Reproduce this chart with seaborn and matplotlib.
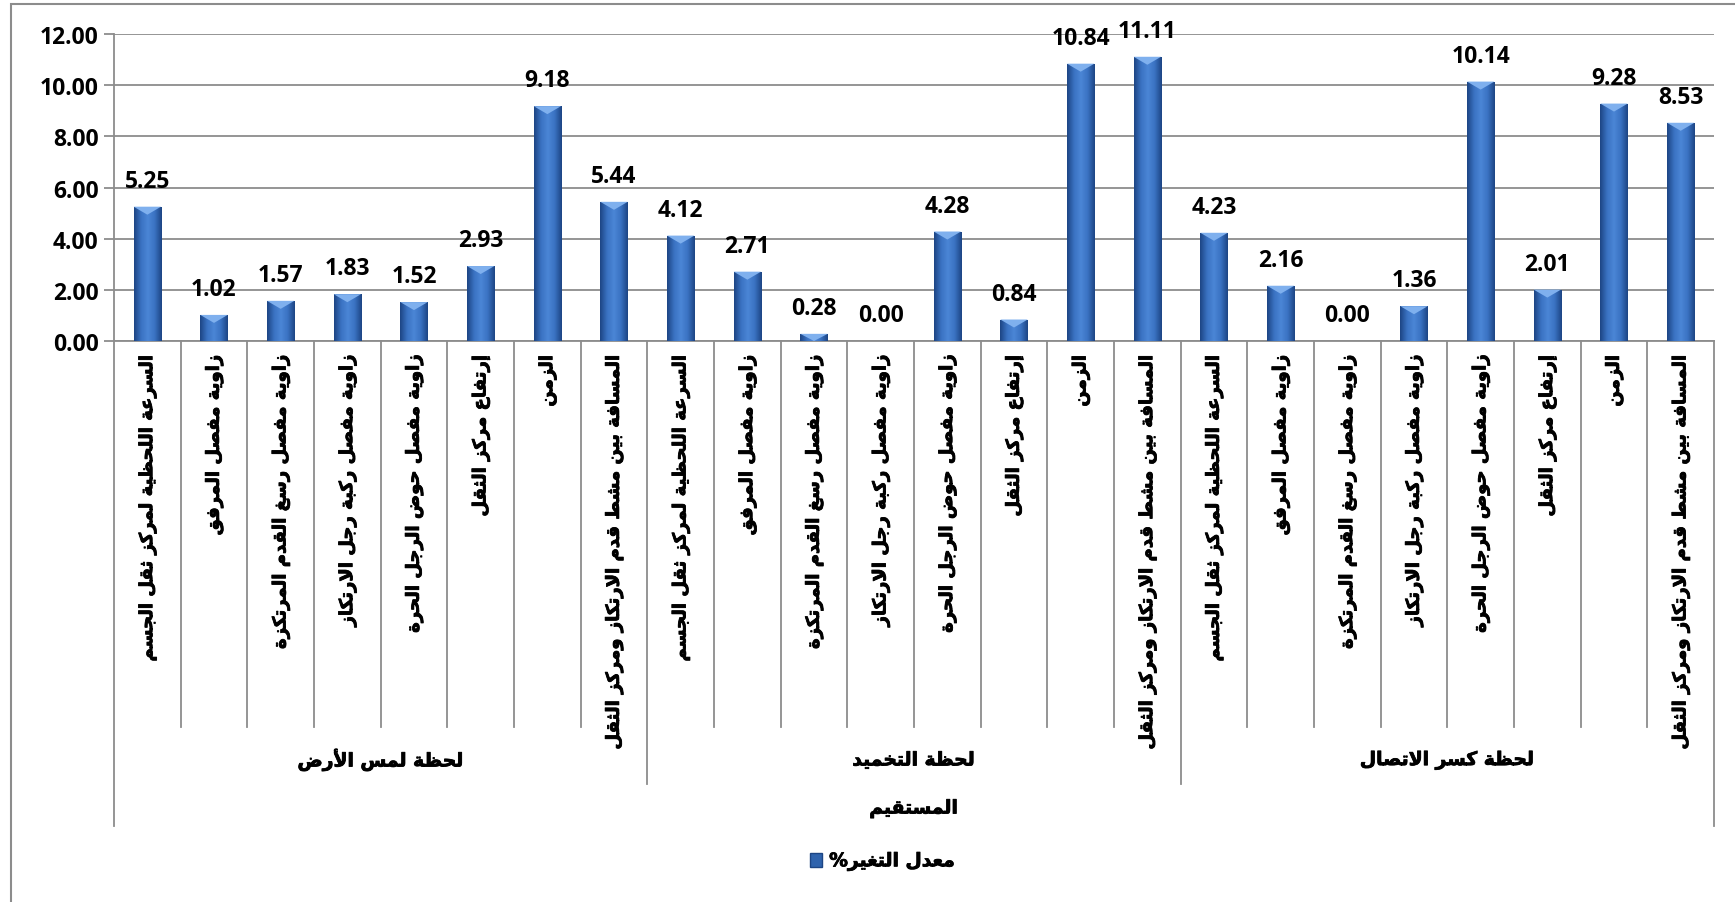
import numpy as np
import seaborn as sns
import matplotlib.pyplot as plt
import matplotlib.patheffects as pe
from matplotlib.colors import LinearSegmentedColormap
from matplotlib.patches import Rectangle, Polygon, Patch
from matplotlib.lines import Line2D

# data
groups = ["لحظة لمس الأرض", "لحظة التخميد", "لحظة كسر الاتصال"]
variables = [
    "السرعة اللحظية لمركز ثقل الجسم",
    "زاوية مفصل المرفق",
    "زاوية مفصل رسغ القدم المرتكزة",
    "زاوية مفصل ركبة رجل الارتكاز",
    "زاوية مفصل حوض الرجل الحرة",
    "إرتفاع مركز الثقل",
    "الزمن",
    "المسافة بين مشط قدم الارتكاز ومركز الثقل",
]
touch_values = [5.25, 1.02, 1.57, 1.83, 1.52, 2.93, 9.18, 5.44]
damping_values = [4.12, 2.71, 0.28, 0.00, 4.28, 0.84, 10.84, 11.11]
breakoff_values = [4.23, 2.16, 0.00, 1.36, 10.14, 2.01, 9.28, 8.53]
axis_title = "المستقيم"
series_name = "معدل التغير%"
yticks = [0, 2, 4, 6, 8, 10, 12]

# tiny arabic shaper (matplotlib does no shaping / bidi)
DUAL = {'ئ': 0xFE89, 'ب': 0xFE8F, 'ت': 0xFE95, 'ث': 0xFE99, 'ج': 0xFE9D, 'ح': 0xFEA1,
        'خ': 0xFEA5, 'س': 0xFEB1, 'ش': 0xFEB5, 'ص': 0xFEB9, 'ض': 0xFEBD, 'ط': 0xFEC1,
        'ظ': 0xFEC5, 'ع': 0xFEC9, 'غ': 0xFECD, 'ف': 0xFED1, 'ق': 0xFED5, 'ك': 0xFED9,
        'ل': 0xFEDD, 'م': 0xFEE1, 'ن': 0xFEE5, 'ه': 0xFEE9, 'ي': 0xFEF1}
RIGHT = {'آ': 0xFE81, 'أ': 0xFE83, 'ؤ': 0xFE85, 'إ': 0xFE87, 'ا': 0xFE8D, 'ة': 0xFE93,
         'د': 0xFEA9, 'ذ': 0xFEAB, 'ر': 0xFEAD, 'ز': 0xFEAF, 'و': 0xFEED, 'ى': 0xFEEF}
LAM_ALEF = {'آ': 0xFEF5, 'أ': 0xFEF7, 'إ': 0xFEF9, 'ا': 0xFEFB}


def shape(s):
    units = []
    i = 0
    while i < len(s):
        if s[i] == 'ل' and i + 1 < len(s) and s[i + 1] in LAM_ALEF:
            units.append(('LA', s[i + 1]))
            i += 2
        else:
            units.append((s[i], None))
            i += 1

    def kind(u):
        if u[0] == 'LA' or u[0] in RIGHT:
            return 'R'
        if u[0] in DUAL:
            return 'D'
        return None

    out = []
    for k, u in enumerate(units):
        t = kind(u)
        if t is None:
            out.append(u[0])
            continue
        prev = k > 0 and kind(units[k - 1]) == 'D'
        nxt = k + 1 < len(units) and kind(units[k + 1]) is not None
        if u[0] == 'LA':
            out.append(chr(LAM_ALEF[u[1]] + (1 if prev else 0)))
        elif t == 'R':
            out.append(chr(RIGHT[u[0]] + (1 if prev else 0)))
        else:
            f = 3 if (prev and nxt) else 1 if prev else 2 if nxt else 0
            out.append(chr(DUAL[u[0]] + f))
    return ''.join(reversed(out))


values = touch_values + damping_values + breakoff_values
labels = variables * 3
n = len(values)
per = len(variables)

W, H = 1735, 903
fig = plt.figure(figsize=(W / 100, H / 100), dpi=100)
ax_l, ax_r, ax_t, ax_b = 114, 1714, 35, 342
ax = fig.add_axes([ax_l / W, 1 - ax_b / H, (ax_r - ax_l) / W, (ax_b - ax_t) / H])
ax_h = ax_b - ax_t

grey = '#8c8c8c'
ar_font = dict(family='DejaVu Sans', weight='bold')
num_font = dict(family='Open Sans', weight='bold')
thick = [pe.withStroke(linewidth=0.6, foreground='black')]

sns.barplot(x=np.arange(n), y=values, color='#2f63ad', width=0.41, saturation=1,
            ax=ax, zorder=3)

ax.set_xlim(-0.5, n - 0.5)
ax.set_ylim(0, 12)

# bar shading, gradient + bevel on top
cmap = LinearSegmentedColormap.from_list('bar', ['#1d4584', '#3a72c2', '#4b86d6', '#3a72c2', '#1d4584'])
grad = np.linspace(0, 1, 64).reshape(1, -1)
px_per_unit = ax_h / 12.0
for p in list(ax.patches):
    bb = p.get_bbox()
    if bb.height <= 0:
        continue
    p.set_edgecolor('none')
    im = ax.imshow(grad, cmap=cmap, extent=(bb.x0, bb.x1, bb.y0, bb.y1), aspect='auto',
                   zorder=4, interpolation='bicubic')
    im.set_clip_path(p)
    th = min(8 / px_per_unit, bb.height)
    tri = Polygon([(bb.x0, bb.y1), (bb.x1, bb.y1), ((bb.x0 + bb.x1) / 2, bb.y1 - th)],
                  closed=True, fc='#7fb0ee', ec='none', zorder=5)
    ax.add_patch(tri)
ax.set_xlim(-0.5, n - 0.5)
ax.set_ylim(0, 12)

# value labels
for i, v in enumerate(values):
    ax.annotate(f"{v:.2f}", (i, v), xytext=(0, 10), textcoords='offset points',
                ha='center', va='bottom', fontsize=16.5, **num_font)

# axes styling
ax.set_yticks(yticks)
ax.set_yticklabels([f"{t:.2f}" for t in yticks], fontsize=16.5, **num_font)
ax.tick_params(axis='y', length=7, width=1.3, color=grey, pad=4)
ax.set_xticks([])
ax.yaxis.grid(True, color=grey, lw=1.3, zorder=0)
ax.set_axisbelow(True)
for s in ['top', 'right']:
    ax.spines[s].set_visible(False)
for s in ['left', 'bottom']:
    ax.spines[s].set_color(grey)
    ax.spines[s].set_linewidth(1.3)

# multi level category axis
tr = ax.get_xaxis_transform()


def fy(py):
    return (ax_b - py) / ax_h


for k in range(n + 1):
    x = k - 0.5
    if k == 0 or k == n:
        yb = 827
    elif k % per == 0:
        yb = 785
    else:
        yb = 728
    ax.add_line(Line2D([x, x], [0, fy(yb)], transform=tr, color=grey, lw=1.3, clip_on=False))

for i, lab in enumerate(labels):
    ax.text(i, fy(356), shape(lab), transform=tr, rotation=90, ha='center', va='top',
            fontsize=13, path_effects=thick, **ar_font)

for g, name in enumerate(groups):
    ax.text(g * per + (per - 1) / 2, fy(761), shape(name), transform=tr, ha='center',
            va='center', fontsize=13.5, path_effects=thick, **ar_font)

ax.text((n - 1) / 2, fy(809), shape(axis_title), transform=tr, ha='center', va='center',
        fontsize=13.5, path_effects=thick, **ar_font)

# legend
handle = Patch(facecolor='#2f63ad', edgecolor='#1d4584')
leg = fig.legend([handle], [shape(series_name)], loc='center', bbox_to_anchor=(883 / W, 1 - 862 / H),
                 frameon=False, prop=dict(size=13.5, **ar_font), handlelength=0.6, handleheight=0.8,
                 handletextpad=0.4)
for t in leg.get_texts():
    t.set_path_effects(thick)

# chart border
fig.add_artist(Rectangle((11 / W, -0.05), 1.2, 1 - 5 / H + 0.05, transform=fig.transFigure,
                         fill=False, ec=grey, lw=1.5))

fig.savefig('out.png', dpi=100)
